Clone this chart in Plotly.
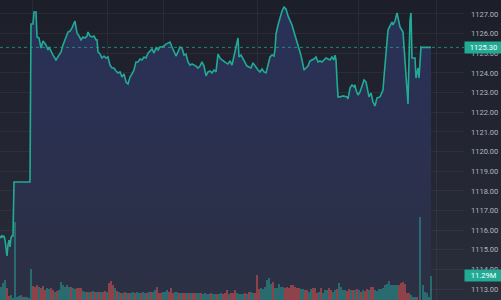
import base64
import plotly.graph_objects as go

# ---------------- data ----------------
price_x = [0, 1, 2, 3, 4, 5, 6, 7, 8, 9, 10, 11, 12, 13, 14, 16, 20, 24, 28, 30,
           31, 33, 34, 36, 37, 39, 41, 43, 46, 48, 49, 51, 53, 56, 58, 61, 63, 66, 68, 70,
           72, 75, 76, 77, 79, 81, 83, 85, 87, 88, 90, 92, 94, 96, 97, 98, 100, 102, 104, 106,
           108, 110, 112, 114, 116, 118, 120, 122, 124, 126, 128, 130, 132, 134, 136, 138, 140, 142, 144, 146,
           148, 150, 152, 154, 156, 158, 160, 162, 164, 166, 168, 170, 172, 174, 176, 178, 180, 182, 184, 186,
           188, 190, 192, 194, 196, 198, 200, 202, 204, 206, 208, 210, 212, 214, 216, 218, 220, 222, 224, 226,
           228, 230, 232, 234, 236, 238, 239, 241, 243, 245, 247, 249, 251, 253, 255, 258, 260, 262, 264, 266,
           268, 270, 272, 274, 275, 276, 278, 280, 282, 284, 286, 288, 290, 292, 294, 296, 298, 300, 302, 304,
           306, 308, 310, 312, 314, 316, 318, 320, 322, 324, 326, 328, 330, 332, 334, 335, 336, 337, 338, 340,
           343, 347, 348, 350, 352, 354, 355, 356, 358, 360, 362, 364, 366, 367, 369, 371, 373, 375, 377, 380,
           383, 384, 386, 388, 390, 392, 393, 395, 397, 399, 400, 403, 405, 407, 408, 409, 410, 411, 412, 415,
           416, 418, 419, 421, 422, 431]
price = [1115.71, 1115.61, 1115.71, 1115.66, 1115.71, 1115.50, 1115.10, 1114.69, 1115.25, 1115.50,
         1115.15, 1115.61, 1115.71, 1115.71, 1118.45, 1118.45, 1118.45, 1118.45, 1118.45, 1118.45,
         1126.49, 1126.49, 1127.10, 1127.10, 1125.83, 1125.78, 1125.27, 1125.62, 1125.42, 1125.17,
         1125.32, 1125.07, 1124.91, 1124.66, 1124.81, 1125.07, 1125.42, 1125.78, 1126.08, 1126.13,
         1126.29, 1126.64, 1126.29, 1126.03, 1125.88, 1125.68, 1125.83, 1125.78, 1125.88, 1126.08,
         1125.88, 1125.83, 1125.88, 1125.68, 1125.68, 1125.07, 1124.96, 1124.76, 1124.86, 1124.76,
         1124.81, 1124.40, 1124.25, 1124.25, 1124.10, 1124.00, 1124.05, 1123.79, 1123.95, 1123.54,
         1123.44, 1123.79, 1123.95, 1124.15, 1124.56, 1124.56, 1124.71, 1124.66, 1124.81, 1124.76,
         1125.01, 1125.12, 1125.22, 1125.01, 1125.27, 1125.17, 1125.32, 1125.32, 1125.37, 1125.47,
         1125.52, 1125.57, 1125.32, 1125.07, 1124.86, 1125.07, 1125.32, 1125.27, 1124.91, 1124.96,
         1124.56, 1124.40, 1124.46, 1124.40, 1124.35, 1124.25, 1124.35, 1124.56, 1124.35, 1123.85,
         1124.05, 1124.10, 1124.00, 1124.15, 1124.05, 1124.96, 1124.76, 1124.66, 1124.56, 1124.51,
         1124.46, 1124.61, 1124.40, 1124.96, 1125.32, 1125.78, 1124.81, 1124.91, 1124.71, 1124.51,
         1124.35, 1124.30, 1124.25, 1124.51, 1124.35, 1124.15, 1124.05, 1124.20, 1124.05, 1124.00,
         1124.40, 1124.81, 1124.91, 1124.86, 1125.17, 1125.98, 1126.44, 1126.85, 1127.15, 1127.35,
         1127.25, 1126.90, 1126.69, 1126.44, 1126.08, 1125.78, 1125.47, 1125.07, 1124.66, 1124.15,
         1124.25, 1124.35, 1124.61, 1124.66, 1124.71, 1124.81, 1124.56, 1124.61, 1124.56, 1124.66,
         1124.76, 1124.71, 1124.66, 1124.81, 1124.66, 1124.91, 1124.66, 1123.64, 1122.78, 1122.78,
         1122.83, 1122.78, 1122.68, 1123.23, 1123.39, 1123.29, 1123.39, 1123.13, 1122.88, 1123.03,
         1123.39, 1123.64, 1123.54, 1123.29, 1122.78, 1122.98, 1122.52, 1122.32, 1122.73, 1122.78,
         1123.13, 1123.79, 1125.17, 1126.18, 1126.39, 1126.59, 1126.44, 1126.64, 1127.05, 1126.49,
         1126.34, 1126.08, 1124.66, 1123.13, 1122.42, 1124.66, 1126.69, 1127.05, 1124.76, 1124.76,
         1123.74, 1124.25, 1123.74, 1125.32, 1125.30, 1125.30]
last_price = 1125.30

# volume (millions), one bar per time index
vol_x = list(range(1, 418, 2)) + [420, 423, 425, 427, 429, 431]
volume = [6.1, 8.0, 9.4, 5.6, 1.9, 2.4, 0.9, 36.7, 1.4, 1.9, 2.4, 1.4, 1.4, 1.4, 0.9,
          14.6, 6.6, 6.1, 7.1, 6.1, 5.6, 6.6, 4.7, 5.6, 5.2, 5.6, 4.7, 3.8, 4.2, 4.7,
          8.5, 7.1, 6.1, 7.1, 6.1, 6.1, 5.6, 5.2, 5.6, 5.6, 5.6, 4.2, 3.8, 3.8, 3.8,
          3.8, 4.2, 3.8, 3.8, 3.8, 3.8, 3.8, 4.2, 3.8, 8.0, 8.9, 7.1, 5.6, 4.2, 3.8,
          3.3, 3.3, 3.8, 3.3, 3.3, 3.3, 3.8, 3.3, 3.8, 3.3, 3.3, 3.8, 3.3, 3.3, 3.8,
          3.8, 3.8, 4.7, 6.1, 3.3, 3.3, 3.8, 3.8, 4.7, 3.8, 5.6, 3.3, 3.8, 3.8, 3.3,
          3.3, 3.3, 3.3, 3.3, 3.3, 3.3, 3.3, 3.3, 3.3, 3.3, 3.3, 2.8, 3.3, 2.8, 2.8,
          3.3, 2.8, 2.8, 2.8, 2.8, 3.3, 2.8, 3.3, 4.7, 2.8, 3.3, 3.3, 4.7, 3.3, 2.8,
          2.8, 2.8, 3.3, 2.8, 3.8, 3.8, 3.3, 3.3, 11.8, 5.2, 5.6, 5.2, 6.1, 9.4, 10.3,
          7.5, 8.5, 5.6, 5.6, 7.5, 6.1, 6.1, 5.6, 6.1, 5.6, 7.1, 7.1, 6.1, 5.6, 5.6,
          5.2, 5.2, 4.7, 4.7, 3.8, 5.2, 5.6, 5.6, 3.3, 3.8, 5.6, 3.3, 4.7, 4.7, 5.6,
          4.7, 3.8, 4.7, 5.2, 8.0, 6.1, 4.7, 4.7, 4.2, 5.2, 4.7, 4.7, 4.7, 5.2, 4.7,
          3.8, 4.7, 4.2, 5.2, 4.7, 6.1, 6.1, 4.7, 4.2, 5.2, 5.2, 5.6, 7.1, 7.5, 8.9,
          7.1, 7.1, 7.1, 7.1, 7.1, 8.0, 8.5, 7.5, 3.3, 3.3, 2.4, 1.4, 1.4, 1.4,
          39.0, 7.1, 3.8, 3.3, 1.4, 11.29]
vol_dir = ("gggrrggggggrggg" "grrrgrrrggrrgrg" "gggggrggrrrggrg" "rgrgrgrrgrrrgrg"
           "rgrgrggrggrggrg" "rggrrrgggrrrggr" "grrgrgrrggrgggg" "rggrggrrrgrrrgg"
           "ggrgrggrrrggggg" "grgggggrrrrrrrr" "ggrrggrrrgrgggr" "rggrggggrrgrgrg"
           "rgrrgrrgggggggg" "ggggrrrrrrgggr" "gggggg")
last_volume_label = "11.29M"

y_ticks = list(range(1113, 1128))
time_grid = [32, 107, 163, 257, 358, 436]

# ---------------- style ----------------
UP = "#22ab94"
vol_colors = ["rgba(38,166,154,0.5)" if d == "g" else "rgba(239,83,80,0.5)" for d in vol_dir]
font_family = "Roboto, 'Noto Sans', sans-serif"
tick_col = "#b2b5be"

svg = ('<svg xmlns="http://www.w3.org/2000/svg" width="10" height="100" preserveAspectRatio="none">'
       '<defs><linearGradient id="g" x1="0" y1="0" x2="0" y2="1">'
       '<stop offset="0" stop-color="#1c1f2a"/><stop offset="1" stop-color="#2a2d3a"/>'
       '</linearGradient></defs><rect width="10" height="100" fill="url(#g)"/></svg>')
bg_src = "data:image/svg+xml;base64," + base64.b64encode(svg.encode()).decode()

W, H = 501, 300
R = 37
fig = go.Figure()

fig.add_trace(go.Bar(
    x=vol_x, y=volume, yaxis="y2", marker=dict(color=vol_colors, line=dict(width=0)),
    width=1.3, hoverinfo="skip", showlegend=False))

fig.add_trace(go.Scatter(
    x=price_x, y=price, mode="lines", line=dict(color=UP, width=1.6),
    fill="tozeroy",
    fillgradient=dict(type="vertical", colorscale=[[0, "#2c3044"], [1, "#293159"]],
                      start=1112.45, stop=1127.5),
    showlegend=False, hoverinfo="skip"))

fig.update_layout(
    width=W, height=H,
    margin=dict(l=0, r=R, t=0, b=0),
    paper_bgcolor="#22252f", plot_bgcolor="rgba(0,0,0,0)",
    font=dict(family=font_family, size=7.5, color=tick_col),
    bargap=0,
    xaxis=dict(range=[0, W - R], tickvals=time_grid, showticklabels=False,
               showgrid=True, gridcolor="rgba(255,255,255,0.05)", gridwidth=1,
               zeroline=False, showline=False, ticks=""),
    yaxis=dict(side="right", range=[1112.45, 1127.71], tickvals=y_ticks, tickformat=".2f",
               showgrid=True, gridcolor="rgba(255,255,255,0.05)", gridwidth=1,
               zeroline=False, showline=False, ticks="", ticklabelstandoff=6,
               tickfont=dict(size=7.5, color=tick_col)),
    yaxis2=dict(overlaying="y", range=[0, 141], visible=False),
    images=[dict(source=bg_src, xref="paper", yref="paper", x=0, y=1,
                 sizex=W / (W - R), sizey=1, xanchor="left", yanchor="top",
                 sizing="stretch", layer="below")],
    shapes=[dict(type="line", xref="paper", x0=0, x1=1, yref="y", y0=last_price, y1=last_price,
                 line=dict(color=UP, width=1, dash="dot"), opacity=0.7)],
    annotations=[
        dict(xref="paper", x=1, yref="y", y=last_price, text=f"{last_price:.2f}",
             showarrow=False, xanchor="left", yanchor="middle", bgcolor=UP,
             width=R, height=11, borderpad=0, font=dict(color="white", size=7.5)),
        dict(xref="paper", x=1, yref="y2", y=volume[-1], text=last_volume_label,
             showarrow=False, xanchor="left", yanchor="middle", bgcolor=UP,
             width=R, height=11, borderpad=0, font=dict(color="white", size=7.5)),
    ],
)

fig.write_html("out.html")
